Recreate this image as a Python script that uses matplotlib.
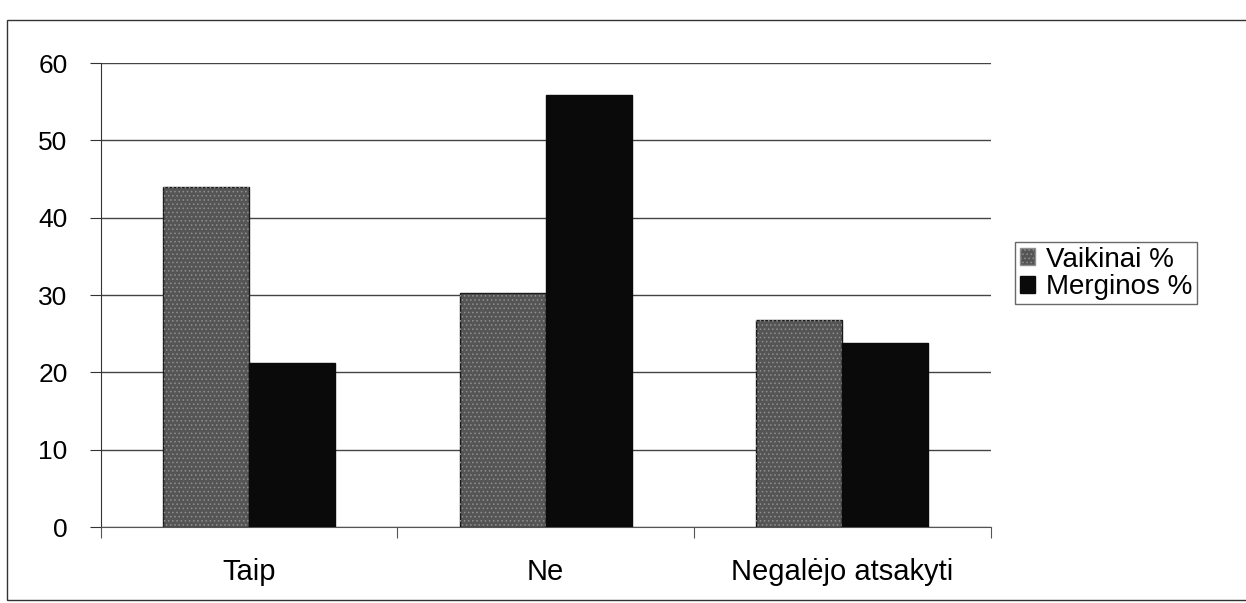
import matplotlib.pyplot as plt
import matplotlib.patches as mpatches
import numpy as np

# data
categories = ["Taip", "Ne", "Negalėjo atsakyti"]
vaikinai = [44.0, 30.3, 26.8]
merginos = [21.2, 55.8, 23.8]
series_names = ["Vaikinai %", "Merginos %"]
yticks = [0, 10, 20, 30, 40, 50, 60]

plt.rcParams['font.family'] = ['Liberation Sans', 'DejaVu Sans']
plt.rcParams['hatch.linewidth'] = 0.6

fig = plt.figure(figsize=(12.46, 6.03), dpi=100)
ax = fig.add_axes([0.081, 0.126, 0.714, 0.7695])

x = np.arange(len(categories))
w = 0.29

ax.bar(x - w / 2, vaikinai, w, color='#555555', edgecolor='#1a1a1a', linewidth=1, zorder=3)
ax.bar(x - w / 2, vaikinai, w, color='none', edgecolor='#909090', hatch='....', linewidth=0, zorder=3)
ax.bar(x + w / 2, merginos, w, color='#0a0a0a', edgecolor='#0a0a0a', linewidth=1, zorder=3)

ax.set_xlim(-0.5, len(categories) - 0.5)
ax.set_ylim(0, 60)
ax.set_yticks(yticks)
ax.set_yticklabels([str(t) for t in yticks], fontsize=19)
ax.set_xticks(x)
ax.set_xticklabels(categories, fontsize=21)
ax.tick_params(axis='x', length=0, pad=22)
ax.tick_params(axis='y', length=8, width=0.8, color='#333333', pad=16)

# category boundary ticks
ax.set_xticks(np.arange(len(categories) + 1) - 0.5, minor=True)
ax.tick_params(axis='x', which='minor', length=8, width=0.8, color='#555555')

ax.grid(axis='y', color='#444444', linewidth=1, zorder=0)
ax.spines['top'].set_visible(False)
ax.spines['right'].set_visible(False)
ax.spines['left'].set_color('#333333')
ax.spines['left'].set_linestyle((0, (6, 1)))
ax.spines['bottom'].set_color('#555555')

# outer chart frame
frame = mpatches.Rectangle((7 / 1246, 0.005), 1.0, 1 - 20 / 603 - 0.005,
                           transform=fig.transFigure, fill=False,
                           edgecolor='#333333', linewidth=1)
fig.patches.append(frame)

h1 = mpatches.Patch(facecolor='#555555', edgecolor='#909090', hatch='....')
h2 = mpatches.Patch(facecolor='#0a0a0a', edgecolor='#0a0a0a')
leg = fig.legend([h1, h2], series_names, loc='upper left',
                 bbox_to_anchor=(0.815, 0.598), fontsize=20, fancybox=False,
                 handlelength=0.55, handleheight=0.55, handletextpad=0.4,
                 borderpad=0.15, labelspacing=0.05, borderaxespad=0)
leg.get_frame().set_edgecolor('#444444')
leg.get_frame().set_linewidth(1)

fig.savefig('out.png', dpi=100)
